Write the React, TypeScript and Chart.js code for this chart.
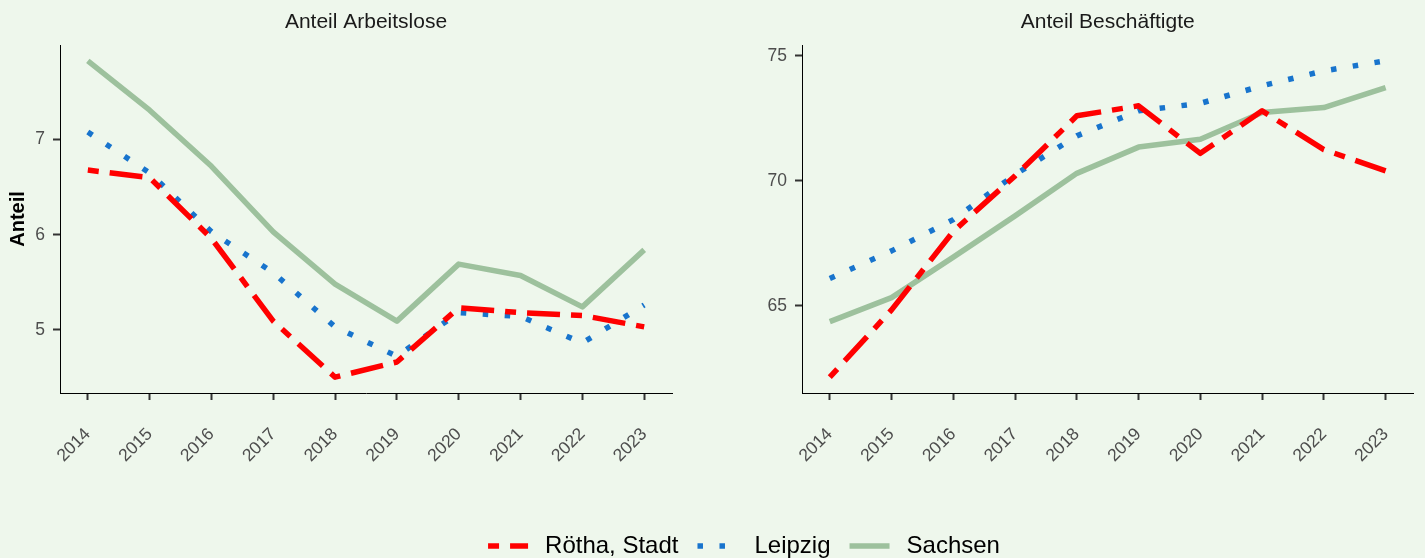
import React, { useEffect, useRef } from 'react';
import { Chart, registerables } from 'chart.js';

Chart.register(...registerables);

// ---------- data ----------
const years = [2014, 2015, 2016, 2017, 2018, 2019, 2020, 2021, 2022, 2023];
const seriesNames = ['Rötha, Stadt', 'Leipzig', 'Sachsen'];

const arbeitsloseRoetha = [6.68, 6.6, 5.96, 5.09, 4.5, 4.66, 5.23, 5.18, 5.15, 5.03];
const arbeitsloseLeipzig = [7.08, 6.65, 6.03, 5.6, 5.03, 4.72, 5.18, 5.14, 4.86, 5.26];
const arbeitsloseSachsen = [7.83, 7.31, 6.72, 6.03, 5.48, 5.09, 5.69, 5.57, 5.24, 5.84];

const beschaeftigteRoetha = [62.15, 64.84, 67.98, 70.2, 72.6, 73.0, 71.1, 72.8, 71.25, 70.4];
const beschaeftigteLeipzig = [66.1, 67.2, 68.45, 70.25, 71.8, 72.8, 73.1, 73.8, 74.4, 74.8];
const beschaeftigteSachsen = [64.37, 65.33, 66.95, 68.6, 70.3, 71.35, 71.66, 72.73, 72.93, 73.73];

const leftYTicks = [5, 6, 7];
const rightYTicks = [65, 70, 75];

const leftTitle = 'Anteil Arbeitslose';
const rightTitle = 'Anteil Beschäftigte';
const yAxisTitle = 'Anteil';

// ---------- styles ----------
const BG = '#EEF7EC';
const FONT = "'Liberation Sans', Arial, Helvetica, sans-serif";
const TICK_COLOR = '#4D4D4D';
const TICK_SIZE = 17.5;
const LW = 5.5;
const seriesStyles = [
  { borderColor: '#FF0000', borderWidth: LW, borderDash: [LW * 2, LW * 2, LW * 6, LW * 2] },
  { borderColor: '#1874CD', borderWidth: LW, borderDash: [LW, LW * 3] },
  { borderColor: '#9DC19D', borderWidth: LW, borderDash: [] as number[] },
];

function expandRange(vals: number[], mult = 0.05): [number, number] {
  const mn = Math.min(...vals);
  const mx = Math.max(...vals);
  const pad = (mx - mn) * mult;
  return [mn - pad, mx + pad];
}

function makeDatasets(values: number[][]) {
  return seriesNames.map((name, i) => ({
    label: name,
    data: years.map((yr, j) => ({ x: yr, y: values[i][j] })),
    ...seriesStyles[i],
    borderCapStyle: 'butt' as const,
    borderJoinStyle: 'round' as const,
    pointRadius: 0,
    pointHoverRadius: 0,
    fill: false,
    tension: 0,
    order: i,
  }));
}

interface PanelCfg {
  title: string;
  values: number[][];
  yTicks: number[];
  yWidth: number;
  padRight: number;
  showYTitle: boolean;
}

function buildPanel(canvas: HTMLCanvasElement, cfg: PanelCfg) {
  const [ymin, ymax] = expandRange(cfg.values.flat());
  const [xmin, xmax] = expandRange(years);
  return new Chart(canvas, {
    type: 'line',
    data: { datasets: makeDatasets(cfg.values) as any },
    options: {
      animation: false,
      responsive: false,
      events: [],
      layout: { padding: { left: 0, right: cfg.padRight, top: 0, bottom: 0 } },
      plugins: {
        legend: { display: false },
        tooltip: { enabled: false },
        title: {
          display: true,
          text: cfg.title,
          fullSize: false,
          color: '#1A1A1A',
          font: { family: FONT, size: 21, weight: 'normal' as any, lineHeight: 1.2 },
          padding: { top: 9.4, bottom: 10.4 },
        },
      },
      scales: {
        x: {
          type: 'linear',
          min: xmin,
          max: xmax,
          afterBuildTicks: (s: any) => {
            s.ticks = years.map((v) => ({ value: v }));
          },
          afterFit: (s: any) => {
            s.height = 97;
          },
          ticks: {
            autoSkip: false,
            minRotation: 45,
            maxRotation: 45,
            padding: 24,
            color: TICK_COLOR,
            font: { family: FONT, size: TICK_SIZE },
            callback: (v: any) => String(v),
          },
          grid: {
            drawOnChartArea: false,
            drawTicks: true,
            tickLength: 7,
            tickColor: '#333333',
            tickWidth: 2,
          },
          border: { display: true, color: '#000000', width: 1 },
        },
        y: {
          type: 'linear',
          min: ymin,
          max: ymax,
          afterBuildTicks: (s: any) => {
            s.ticks = cfg.yTicks.map((v) => ({ value: v }));
          },
          afterFit: (s: any) => {
            s.width = cfg.yWidth;
          },
          ticks: {
            padding: 8,
            color: TICK_COLOR,
            font: { family: FONT, size: TICK_SIZE },
            callback: (v: any) => String(v),
          },
          grid: {
            drawOnChartArea: false,
            drawTicks: true,
            tickLength: 7,
            tickColor: '#333333',
            tickWidth: 2,
          },
          border: { display: true, color: '#000000', width: 1 },
          title: {
            display: cfg.showYTitle,
            text: yAxisTitle,
            color: '#000000',
            font: { family: FONT, size: 20, weight: 'bold' as any, lineHeight: 1.2 },
            padding: { top: 6, bottom: 0 },
          },
        },
      },
    },
  });
}

const LEGEND_CENTER_X = 744;

const legendPlugin = {
  id: 'sharedLegend',
  afterDraw(chart: any) {
    const ctx: CanvasRenderingContext2D = chart.ctx;
    const ds = chart.data.datasets;
    ctx.save();
    ctx.font = `24px ${FONT}`;
    const keyW = 40;
    const keyGap = 17;
    const itemGap = 19;
    const widths = ds.map((d: any) => keyW + keyGap + ctx.measureText(d.label).width);
    const total = widths.reduce((a: number, b: number) => a + b, 0) + itemGap * (ds.length - 1);
    let x = LEGEND_CENTER_X - total / 2;
    const y = chart.height / 2 + 1;
    ds.forEach((d: any, i: number) => {
      ctx.beginPath();
      ctx.setLineDash(d.borderDash || []);
      ctx.lineDashOffset = 0;
      ctx.lineWidth = d.borderWidth;
      ctx.strokeStyle = d.borderColor;
      ctx.lineCap = 'butt';
      ctx.moveTo(x, y);
      ctx.lineTo(x + keyW, y);
      ctx.stroke();
      ctx.setLineDash([]);
      ctx.fillStyle = '#000000';
      ctx.textBaseline = 'middle';
      ctx.textAlign = 'left';
      ctx.fillText(d.label, x + keyW + keyGap, y);
      x += widths[i] + itemGap;
    });
    ctx.restore();
  },
};

function buildLegend(canvas: HTMLCanvasElement) {
  return new Chart(canvas, {
    type: 'line',
    data: {
      datasets: seriesNames.map((name, i) => ({ label: name, data: [], ...seriesStyles[i] })) as any,
    },
    options: {
      animation: false,
      responsive: false,
      events: [],
      plugins: { legend: { display: false }, tooltip: { enabled: false } },
      scales: { x: { display: false }, y: { display: false } },
    },
    plugins: [legendPlugin],
  });
}

export default function App() {
  const leftRef = useRef<HTMLCanvasElement>(null);
  const rightRef = useRef<HTMLCanvasElement>(null);
  const legendRef = useRef<HTMLCanvasElement>(null);

  useEffect(() => {
    const charts: Chart[] = [];
    if (leftRef.current) {
      charts.push(
        buildPanel(leftRef.current, {
          title: leftTitle,
          values: [arbeitsloseRoetha, arbeitsloseLeipzig, arbeitsloseSachsen],
          yTicks: leftYTicks,
          yWidth: 60,
          padRight: 48,
          showYTitle: true,
        })
      );
    }
    if (rightRef.current) {
      charts.push(
        buildPanel(rightRef.current, {
          title: rightTitle,
          values: [beschaeftigteRoetha, beschaeftigteLeipzig, beschaeftigteSachsen],
          yTicks: rightYTicks,
          yWidth: 82,
          padRight: 11,
          showYTitle: false,
        })
      );
    }
    if (legendRef.current) charts.push(buildLegend(legendRef.current));
    return () => charts.forEach((c) => c.destroy());
  }, []);

  return (
    <div
      style={{
        position: 'absolute',
        left: 0,
        top: 0,
        width: 1425,
        height: 558,
        background: BG,
        overflow: 'hidden',
      }}
    >
      <canvas ref={leftRef} width={720} height={490} style={{ position: 'absolute', left: 0, top: 0 }} />
      <canvas ref={rightRef} width={705} height={490} style={{ position: 'absolute', left: 720, top: 0 }} />
      <canvas ref={legendRef} width={1425} height={50} style={{ position: 'absolute', left: 0, top: 520 }} />
    </div>
  );
}
